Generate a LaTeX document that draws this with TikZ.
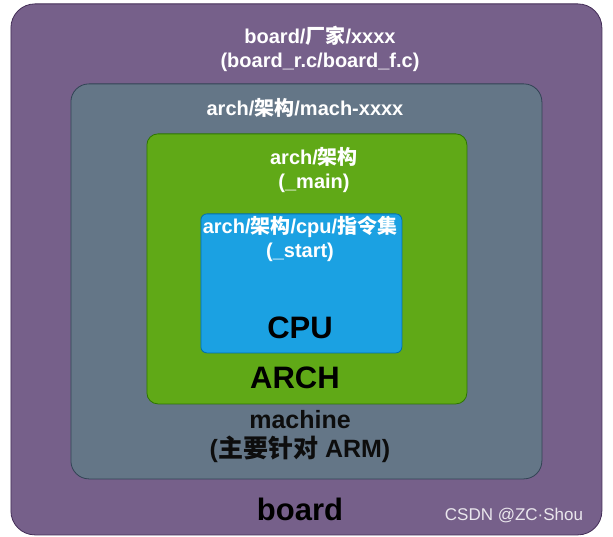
\documentclass[tikz,border=0pt]{standalone}
\usepackage{fontspec}
\setmainfont{Liberation Sans}
\newfontfamily\cjk{Noto Sans CJK SC}
\usepackage{xcolor}
\usepackage{tikz}
\usetikzlibrary{positioning}
\definecolor{boardfill}{HTML}{76608A}
\definecolor{boarddraw}{HTML}{432D57}
\definecolor{machfill}{HTML}{647687}
\definecolor{machdraw}{HTML}{314354}
\definecolor{archfill}{HTML}{60A917}
\definecolor{archdraw}{HTML}{2D7600}
\definecolor{cpufill}{HTML}{1BA1E2}
\definecolor{cpudraw}{HTML}{006EAF}
\newcommand{\zh}[1]{{\cjk #1}}

\begin{document}
\begin{tikzpicture}[
        x=1pt, y=-1pt,
        layer/.style={rectangle, line width=0.8pt, inner sep=0pt, anchor=north west},
        pathlbl/.style={font=\fontsize{20}{24}\selectfont\bfseries, text=white,
                align=center, inner sep=0pt},
        namelbl/.style={font=\fontsize{31}{36}\selectfont\bfseries, text=black,
                inner sep=0pt},
        machlbl/.style={font=\fontsize{25}{29}\selectfont\bfseries, text=black!95,
                align=center, inner sep=0pt},
    ]
    \useasboundingbox (0,0) rectangle (613,537);

    % nested boxes
    \node[layer, draw=boarddraw, fill=boardfill, rounded corners=24pt,
          minimum width=591pt, minimum height=531pt] (board) at (10.5,3.5) {};
    \node[layer, draw=machdraw, fill=machfill, rounded corners=18pt,
          minimum width=471pt, minimum height=395pt] (machine) at (70.5,83.5) {};
    \node[layer, draw=archdraw, fill=archfill, rounded corners=11pt,
          minimum width=320pt, minimum height=270pt] (arch) at (146.5,133.5) {};
    \node[layer, draw=cpudraw, fill=cpufill, rounded corners=6pt,
          minimum width=201pt, minimum height=139pt] (cpu) at (200.5,213.5) {};

    % paths
    \node[pathlbl] (boardPath) at (320,49)
        {board/\zh{厂家}/xxxx\\(board\_r.c/board\_f.c)};
    \node[pathlbl] (machPath) at (305,108) {arch/\zh{架构}/mach-xxxx};
    \node[pathlbl] (archPath) at (314,170) {arch/\zh{架构}\\(\_main)};
    \node[pathlbl] (cpuPath) at (300,239) {arch/\zh{架构}/cpu/\zh{指令集}\\(\_start)};

    % layer names
    \node[namelbl] (cpuName) at (300,328) {CPU};
    \node[namelbl] (archName) at (295,378) {ARCH};
    \node[machlbl] (machName) at (300,437) {machine\\(\zh{主要针对} ARM)};
    \node[namelbl] (boardName) at (300,509) {board};

    \node[font=\fontsize{17}{20}\selectfont, text=white!85!boardfill, inner sep=0pt]
        (mark) at (514,516) {CSDN @ZC·Shou};
\end{tikzpicture}
\end{document}
